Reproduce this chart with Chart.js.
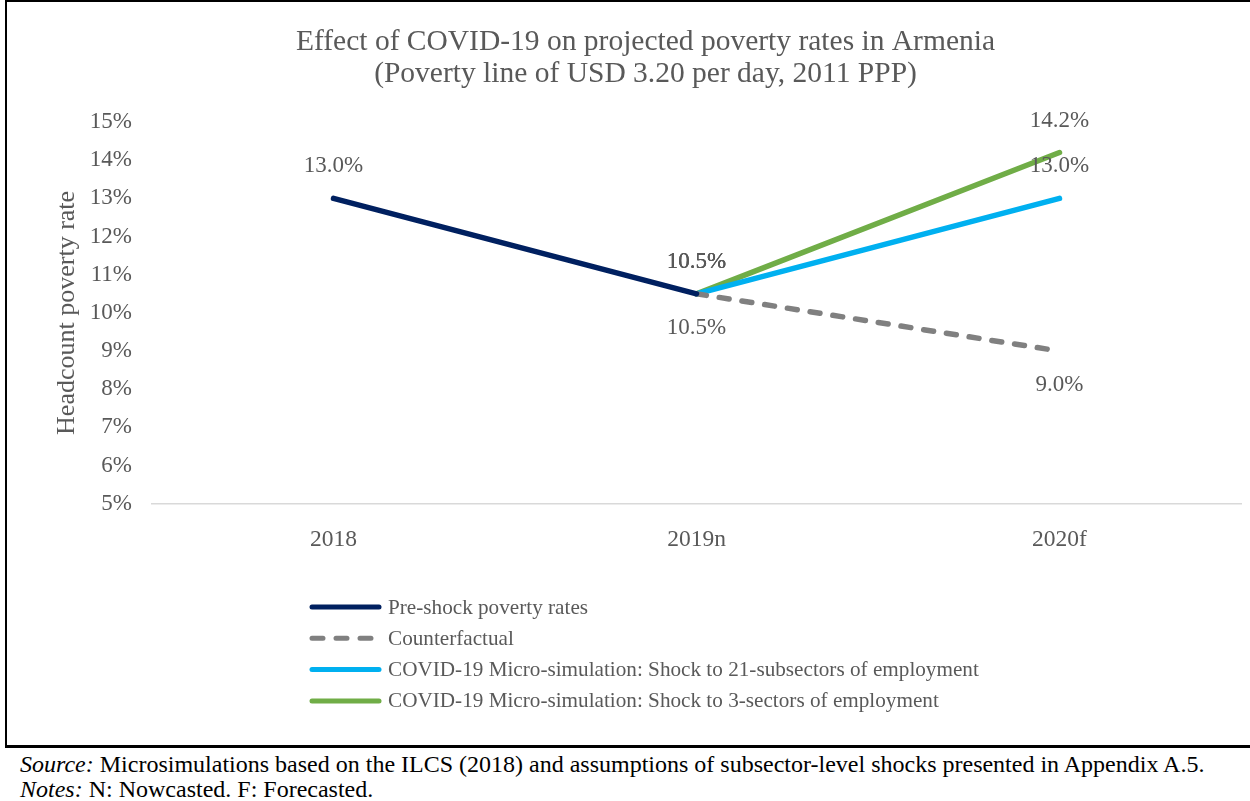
<!DOCTYPE html>
<html>
<head>
<meta charset="utf-8">
<script src="https://cdn.jsdelivr.net/npm/chart.js@4"></script>
<style>
  body { margin: 0; background: #fff; font-family: "Liberation Serif", "Times New Roman", serif; }
  #wrap { position: relative; width: 1250px; height: 801px; overflow: hidden; }
  #frame { position: absolute; left: 5px; top: 0; width: 1260px; height: 743px;
           border-left: 2px solid #000; border-top: 2px solid #000; border-bottom: 3px solid #000; }
  canvas { position: absolute; left: 0; top: 0; }
  #notes { position: absolute; left: 20px; top: 752px; font-size: 24px; line-height: 25px; color: #000; white-space: nowrap; }
</style>
</head>
<body>
<div id="wrap">
  <div id="frame"></div>
  <canvas id="myChart" width="1250" height="745"></canvas>
  <div id="notes">
    <div><i>Source:</i> Microsimulations based on the ILCS (2018) and assumptions of subsector-level shocks presented in Appendix A.5.</div>
    <div><i>Notes:</i> N: Nowcasted. F: Forecasted.</div>
  </div>
</div>
<script>
const years = ['2018', '2019n', '2020f'];
const preShock = [13.0, 10.5, null];
const counterfactual = [null, 10.5, 9.0];
const shock21 = [null, 10.5, 13.0];
const shock3 = [null, 10.5, 14.2];
const yTicks = [5, 6, 7, 8, 9, 10, 11, 12, 13, 14, 15];

const serif = '"Liberation Serif", "Times New Roman", serif';
const grey = '#595959';

// value labels: above the point (-1) or below it (+1)
const labelPlugin = {
  id: 'valueLabels',
  afterDatasetsDraw(chart) {
    const ctx = chart.ctx;
    ctx.save();
    ctx.font = '23px ' + serif;
    ctx.fillStyle = grey;
    ctx.textAlign = 'center';
    ctx.textBaseline = 'middle';
    chart.data.datasets.forEach((ds, i) => {
      const meta = chart.getDatasetMeta(i);
      meta.data.forEach((pt, j) => {
        const v = ds.data[j];
        if (v === null) return;
        const off = ds.labelSide > 0 ? 34 : -32;
        ctx.fillText(v.toFixed(1) + '%', pt.x, pt.y + off);
      });
    });
    ctx.restore();
  }
};

// legend stacked in a column under the plot
const legendPlugin = {
  id: 'columnLegend',
  afterDraw(chart) {
    const ctx = chart.ctx;
    ctx.save();
    ctx.font = '21.2px ' + serif;
    ctx.textBaseline = 'middle';
    chart.data.datasets.forEach((ds, i) => {
      const y = 607 + i * 31.3;
      ctx.strokeStyle = ds.borderColor;
      ctx.lineWidth = 5;
      ctx.lineCap = 'round';
      ctx.setLineDash(ds.borderDash ? [11, 13] : []);
      ctx.beginPath();
      ctx.moveTo(312, y);
      ctx.lineTo(379, y);
      ctx.stroke();
      ctx.setLineDash([]);
      ctx.fillStyle = grey;
      ctx.fillText(ds.label, 388, y + 1);
    });
    ctx.restore();
  }
};

const ctx = document.getElementById('myChart').getContext('2d');
const chart = new Chart(ctx, {
  type: 'line',
  data: {
    labels: years,
    datasets: [{
      label: 'Pre-shock poverty rates',
      data: preShock,
      borderColor: '#002060',
      labelSide: -1
    }, {
      label: 'Counterfactual',
      data: counterfactual,
      borderColor: '#808080',
      borderDash: [10, 13],
      labelSide: 1
    }, {
      label: 'COVID-19 Micro-simulation: Shock to 21-subsectors of employment',
      data: shock21,
      borderColor: '#00B0F0',
      labelSide: -1
    }, {
      label: 'COVID-19 Micro-simulation: Shock to 3-sectors of employment',
      data: shock3,
      borderColor: '#70AD47',
      labelSide: -1
    }]
  },
  options: {
    responsive: false,
    animation: false,
    datasets: {
      line: { borderWidth: 5.5, pointRadius: 0, borderCapStyle: 'round', borderJoinStyle: 'round', spanGaps: false }
    },
    layout: { padding: { left: 50, right: 9, top: 0, bottom: 177 } },
    plugins: {
      legend: { display: false },
      tooltip: { enabled: false },
      title: {
        display: true,
        text: ['Effect of COVID-19 on projected poverty rates in Armenia', '(Poverty line of USD 3.20 per day, 2011 PPP)'],
        color: grey,
        font: { family: serif, size: 29.5, weight: 'normal', lineHeight: 1.085 },
        padding: { top: 26, bottom: 32 }
      }
    },
    scales: {
      x: {
        offset: true,
        grid: { display: false },
        border: { display: true, color: '#D9D9D9', width: 1.5 },
        ticks: { color: grey, font: { family: serif, size: 23.5 }, padding: 14 }
      },
      y: {
        min: 5,
        max: 15,
        afterFit(scale) { scale.width = 102; },
        afterBuildTicks(scale) { scale.ticks = yTicks.map(v => ({ value: v })); },
        grid: { display: false, drawTicks: false },
        border: { display: false },
        ticks: { color: grey, font: { family: serif, size: 23 }, padding: 20, callback: v => v + '%' },
        title: {
          display: true,
          text: 'Headcount poverty rate',
          color: grey,
          font: { family: serif, size: 26 },
          padding: { top: 2, bottom: 0 }
        }
      }
    }
  },
  plugins: [labelPlugin, legendPlugin]
});
</script>
</body>
</html>
